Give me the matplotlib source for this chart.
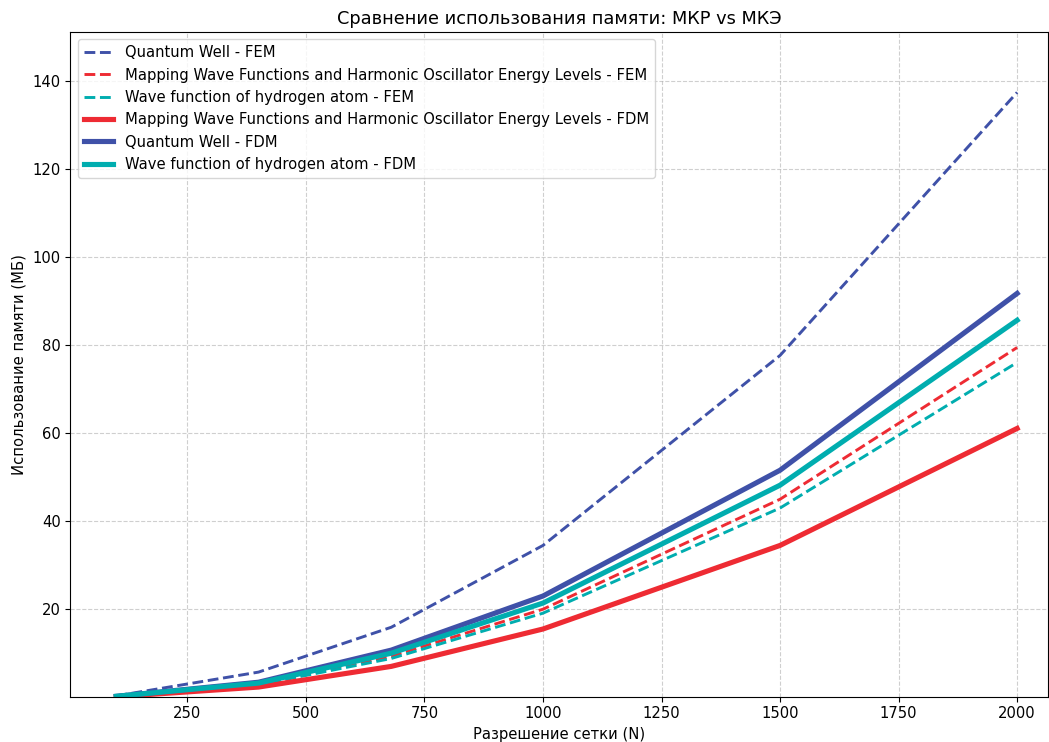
import matplotlib.pyplot as plt
import numpy as np

# Grid resolution (N)
grid_n = [100, 400, 680, 1000, 1500, 2000]

# Memory usage (MB)
qw_fem = [0.3, 5.7, 15.9, 34.5, 77.7, 137.5]
mapping_fem = [0.15, 3.0, 9.3, 20.0, 45.0, 79.5]
hydrogen_fem = [0.15, 2.8, 8.8, 19.1, 43.0, 76.1]
mapping_fdm = [0.1, 2.3, 7.0, 15.5, 34.5, 61.1]
qw_fdm = [0.2, 3.4, 10.7, 23.0, 51.6, 91.8]
hydrogen_fdm = [0.2, 3.2, 10.0, 21.4, 48.2, 85.7]

blue = "#3F51A8"
red = "#EE2B33"
teal = "#00ADAF"

plt.rcParams["font.size"] = 10.6

fig, ax = plt.subplots(figsize=(10.49, 7.42), dpi=100)

ax.plot(grid_n, qw_fem, "--", color=blue, linewidth=2.1, label="Quantum Well - FEM")
ax.plot(grid_n, mapping_fem, "--", color=red, linewidth=2.1,
        label="Mapping Wave Functions and Harmonic Oscillator Energy Levels - FEM")
ax.plot(grid_n, hydrogen_fem, "--", color=teal, linewidth=2.1,
        label="Wave function of hydrogen atom - FEM")
ax.plot(grid_n, mapping_fdm, "-", color=red, linewidth=3.7,
        label="Mapping Wave Functions and Harmonic Oscillator Energy Levels - FDM")
ax.plot(grid_n, qw_fdm, "-", color=blue, linewidth=3.7, label="Quantum Well - FDM")
ax.plot(grid_n, hydrogen_fdm, "-", color=teal, linewidth=3.7,
        label="Wave function of hydrogen atom - FDM")

all_vals = np.concatenate([qw_fem, mapping_fem, hydrogen_fem, mapping_fdm, qw_fdm, hydrogen_fdm])
ax.set_ylim(all_vals.min(), all_vals.max() * 1.1)
ax.set_xlim(3, 2065)
ax.set_xticks([250, 500, 750, 1000, 1250, 1500, 1750, 2000])
ax.set_yticks([20, 40, 60, 80, 100, 120, 140])

ax.set_title("Сравнение использования памяти: МКР vs МКЭ", fontsize=12.8)
ax.set_xlabel("Разрешение сетки (N)")
ax.set_ylabel("Использование памяти (МБ)")
ax.grid(True, linestyle="--", alpha=0.6)
ax.legend(loc="upper left")

fig.subplots_adjust(left=0.067, right=0.999, top=0.957, bottom=0.061)
fig.savefig("out.png", dpi=100)
